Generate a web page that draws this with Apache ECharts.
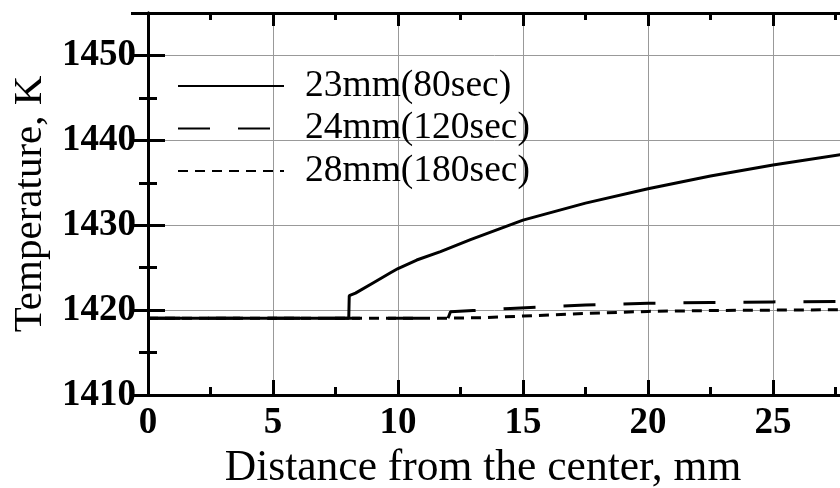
<!DOCTYPE html>
<html>
<head>
<meta charset="utf-8">
<script src="https://cdn.jsdelivr.net/npm/echarts@6/dist/echarts.min.js"></script>
<style>html,body{margin:0;padding:0;background:#fff}#c{width:840px;height:488px}</style>
</head>
<body>
<div id="c"></div>
<script>
const seriesNames = ['23mm(80sec)', '24mm(120sec)', '28mm(180sec)'];
const xTitle = 'Distance from the center, mm';
const yTitle = 'Temperature, K';
const s23 = [[0,1419.05],[8.03,1419.05],[8.05,1421.7],[8.3,1422.0],[9.0,1423.2],[9.7,1424.4],[10.0,1424.9],[10.75,1425.9],[11.7,1426.9],[12.9,1428.3],[15,1430.6],[17.5,1432.6],[20,1434.3],[22.5,1435.8],[25,1437.1],[27.7,1438.3],[28,1438.4]];
const s24 = [[0,1419.05],[12.0,1419.05],[12.1,1419.8],[13,1419.95],[14.5,1420.2],[16,1420.4],[17.5,1420.6],[20,1420.8],[22.5,1420.9],[25,1420.97],[28,1421.02]];
const s28 = [[0,1419.05],[12,1419.05],[13.5,1419.12],[15,1419.3],[17.5,1419.6],[20,1419.85],[22.5,1419.95],[25,1420.0],[28,1420.05]];
const xMin = 0, xMax = 28, xMajor = 5, xMinor = 2.5;
const yMin = 1410, yMax = 1455, yMajor = 10, yMinor = 5;

const FONT = 'Liberation Serif';
const chart = echarts.init(document.getElementById('c'), null, {renderer: 'canvas'});
const lineBlack = {show: true, lineStyle: {color: '#000', width: 3}};
const noLine = {show: false};
function xa(pos, interval, tickLen, opts) {
  return Object.assign({
    type: 'value', position: pos, min: xMin, max: xMax, interval: interval,
    axisLine: lineBlack,
    axisTick: {show: true, inside: true, length: tickLen, lineStyle: {color: '#000', width: 3}},
    axisLabel: {show: false}, splitLine: {show: false}
  }, opts || {});
}
function ya(pos, interval, tickLen, opts) {
  return Object.assign({
    type: 'value', position: pos, min: yMin, max: yMax, interval: interval,
    axisLine: lineBlack,
    axisTick: {show: true, inside: true, length: tickLen, lineStyle: {color: '#000', width: 3}},
    axisLabel: {show: false}, splitLine: {show: false}
  }, opts || {});
}
const option = {
  animation: false,
  backgroundColor: '#fff',
  grid: {left: 148, top: 13, right: -8, bottom: 93, containLabel: false, outerBoundsMode: 'none'},
  legend: {
    orient: 'vertical', left: 172, top: 62, itemWidth: 106, itemHeight: 20, itemGap: 4.5,
    data: seriesNames,
    itemStyle: {opacity: 0},
    textStyle: {fontFamily: FONT, fontSize: 37.5, color: '#000', lineHeight: 36, padding: [0, 0, 0, 16]}
  },
  xAxis: [
    xa('bottom', xMajor, 15, {
      name: xTitle, nameLocation: 'middle', nameGap: 52,
      nameTextStyle: {fontFamily: FONT, fontSize: 43.5, color: '#000', padding: [0, 30, 0, 0]},
      axisLabel: {show: true, margin: 10, fontFamily: FONT, fontSize: 37, fontWeight: 'bold', color: '#000',
        formatter: v => (v % 5 === 0 ? String(v) : '')},
      splitLine: {show: true, lineStyle: {color: '#999', width: 1}}
    }),
    xa('bottom', xMinor, 8, {axisLine: noLine}),
    xa('top', xMajor, 13),
    xa('top', xMinor, 7, {axisLine: noLine})
  ],
  yAxis: [
    ya('left', yMajor, 17, {
      name: yTitle, nameLocation: 'middle', nameGap: 95, nameRotate: 90,
      nameTextStyle: {fontFamily: FONT, fontSize: 41, color: '#000'},
      axisLabel: {show: true, margin: 12, fontFamily: FONT, fontSize: 37, fontWeight: 'bold', color: '#000',
        formatter: v => (v % 10 === 0 ? String(v) : '')},
      splitLine: {show: true, lineStyle: {color: '#999', width: 1}}
    }),
    ya('left', yMinor, 9, {axisLine: noLine}),
    ya('right', yMajor, 17),
    ya('right', yMinor, 9, {axisLine: noLine})
  ],
  series: [
    {name: seriesNames[0], type: 'line', data: s23, symbol: 'none', xAxisIndex: 0, yAxisIndex: 0, z: 5,
      lineStyle: {color: '#000', width: 3, type: 'solid'}, itemStyle: {color: '#000'}},
    {name: seriesNames[1], type: 'line', data: s24, symbol: 'none', xAxisIndex: 0, yAxisIndex: 0, z: 4,
      lineStyle: {color: '#000', width: 3, type: [32, 28]}, itemStyle: {color: '#000'}},
    {name: seriesNames[2], type: 'line', data: s28, symbol: 'none', xAxisIndex: 0, yAxisIndex: 0, z: 3,
      lineStyle: {color: '#000', width: 3, type: [10, 7]}, itemStyle: {color: '#000'}}
  ]
};
chart.setOption(option);
</script>
</body>
</html>
